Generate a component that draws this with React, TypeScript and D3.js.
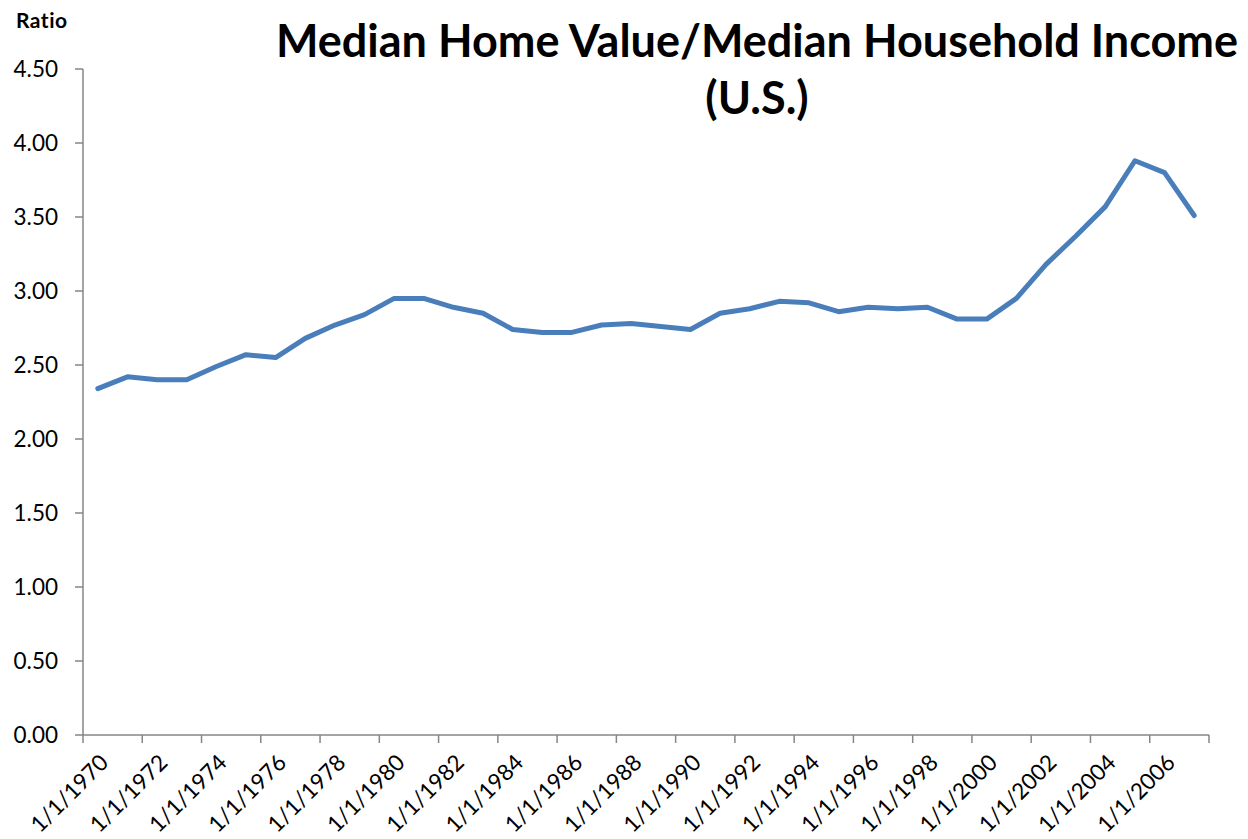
import React from "react";
import * as d3 from "d3";

const years = d3.range(1970, 2008).map((y) => y);
const ratios = [
  2.34, 2.42, 2.4, 2.4, 2.49, 2.57, 2.55, 2.68, 2.77, 2.84,
  2.95, 2.95, 2.89, 2.85, 2.74, 2.72, 2.72, 2.77, 2.78, 2.76,
  2.74, 2.85, 2.88, 2.93, 2.92, 2.86, 2.89, 2.88, 2.89, 2.81,
  2.81, 2.95, 3.18, 3.37, 3.57, 3.88, 3.8, 3.51,
];
const yTicks = [0, 0.5, 1, 1.5, 2, 2.5, 3, 3.5, 4, 4.5];
const titleLines = ["Median Home Value/Median Household Income", "(U.S.)"];
const yLabel = "Ratio";

const W = 1248;
const H = 839;
const left = 83;
const right = 1209;
const top = 69;
const bottom = 735;
const font = "Lato, 'Open Sans', sans-serif";
const axisColor = "#868686";

export default function App() {
  const cats = years.map(String);
  const x = d3.scaleBand<string>().domain(cats).range([left, right]).padding(0);
  const y = d3.scaleLinear().domain([0, 4.5]).range([bottom, top]);
  const line = d3
    .line<number>()
    .x((_, i) => (x(cats[i]) as number) + x.bandwidth() / 2)
    .y((d) => y(d));

  const tickCats = cats.filter((_, i) => i % 2 === 0);
  const tickXs = [...tickCats.map((c) => x(c) as number), right];

  return (
    <svg
      width={W}
      height={H}
      style={{ position: "absolute", left: 0, top: 0, background: "#fff" }}
    >
      <text x={16} y={28} fontFamily={font} fontWeight="bold" fontSize={21} letterSpacing={0.5} fill="#000">
        {yLabel}
      </text>
      <text
        x={757}
        y={57}
        textAnchor="middle"
        fontFamily={font}
        fontWeight="bold"
        fontSize={45}
        fill="#000"
      >
        {titleLines[0]}
      </text>
      <text
        x={757}
        y={114}
        textAnchor="middle"
        fontFamily={font}
        fontWeight="bold"
        fontSize={45}
        fill="#000"
      >
        {titleLines[1]}
      </text>

      {/* y axis */}
      <line x1={left} x2={left} y1={top} y2={bottom} stroke={axisColor} strokeWidth={1.5} />
      {yTicks.map((t) => (
        <g key={t}>
          <line x1={left - 8} x2={left} y1={y(t)} y2={y(t)} stroke={axisColor} strokeWidth={1.5} />
          <text
            x={58}
            y={y(t)}
            dy="0.36em"
            textAnchor="end"
            fontFamily={font}
            fontSize={22.5}
            fill="#000"
          >
            {d3.format(".2f")(t)}
          </text>
        </g>
      ))}

      {/* x axis */}
      <line x1={left} x2={right} y1={bottom} y2={bottom} stroke={axisColor} strokeWidth={1.5} />
      {tickXs.map((tx, i) => (
        <line key={i} x1={tx} x2={tx} y1={bottom} y2={bottom + 8} stroke={axisColor} strokeWidth={1.5} />
      ))}
      {tickCats.map((c) => {
        const cx = (x(c) as number) + x.bandwidth() / 2 + 12;
        const cy = bottom + 29;
        return (
          <text
            key={c}
            transform={`translate(${cx},${cy}) rotate(-45)`}
            textAnchor="end"
            fontFamily={font}
            fontSize={22.5}
            fill="#000"
          >
            {`1/1/${c}`}
          </text>
        );
      })}

      <path
        d={line(ratios) || ""}
        fill="none"
        stroke="#4a7ebb"
        strokeWidth={5}
        strokeLinejoin="round"
        strokeLinecap="round"
      />
    </svg>
  );
}
